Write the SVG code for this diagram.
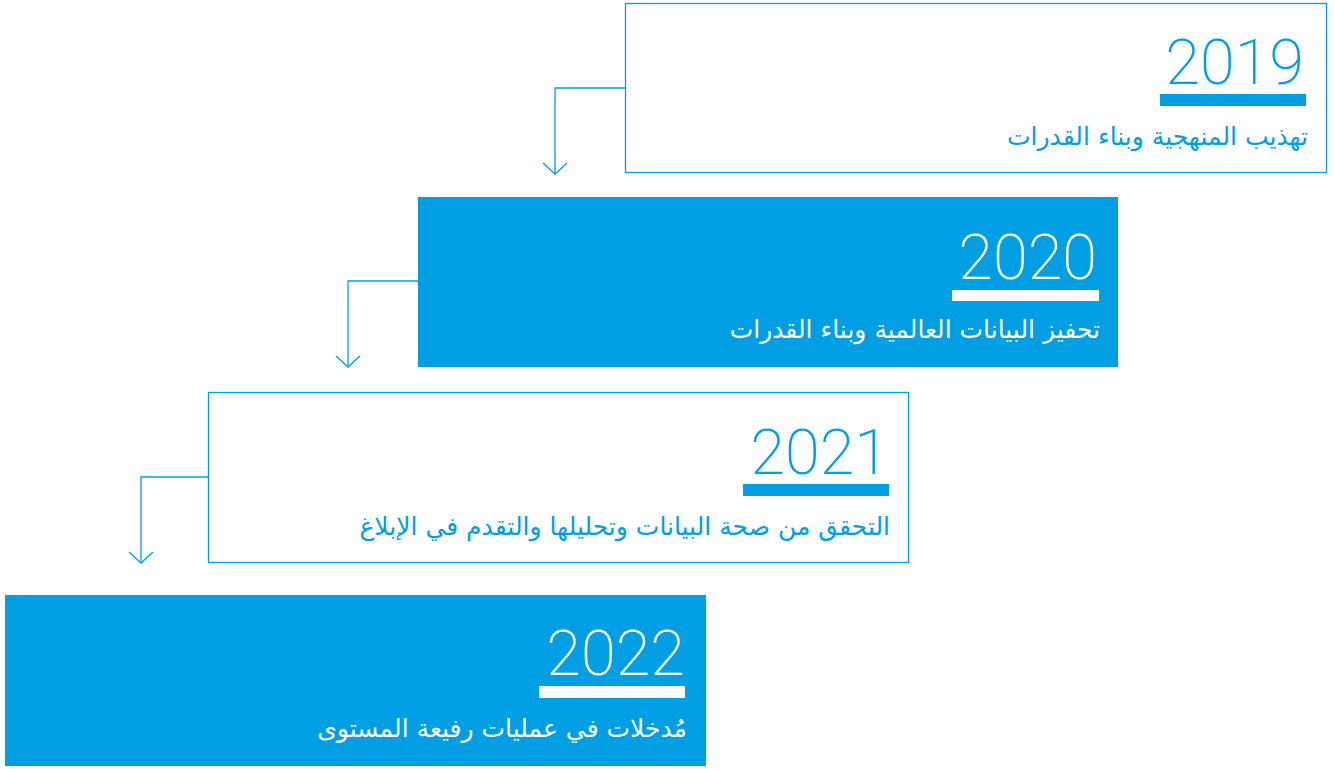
<svg xmlns="http://www.w3.org/2000/svg" width="1334" height="769" viewBox="0 0 1334 769">
<defs>
<style>
.box-o{fill:#ffffff;stroke:#009fe3;stroke-width:1.3}
.box-f{fill:#009fe3}
.yr{font-family:Roboto,"Liberation Sans",sans-serif;font-weight:200;font-size:63px;text-anchor:end}
.lbl{font-family:"DejaVu Sans","Noto Sans",sans-serif;font-size:25px;text-anchor:end}
.blue{fill:#009fe3}
.white{fill:#ffffff}
.con{fill:none;stroke:#009fe3;stroke-width:1.3}
</style>
</defs>
<rect width="1334" height="769" fill="#ffffff"/>
<g id="connectors">
<path class="con" d="M625,88 H555 V174"/>
<path class="con" d="M543,163 L555,174 L567,163"/>
<path class="con" d="M418,281 H348 V367"/>
<path class="con" d="M336,356 L348,367 L360,356"/>
<path class="con" d="M210,477 H141 V563"/>
<path class="con" d="M129,552 L141,563 L153,552"/>
</g>
<g id="node-2019">
<rect class="box-o" x="625.5" y="3.5" width="701" height="169"/>
<text class="yr blue" x="1304" y="84">2019</text>
<rect class="blue" x="1160" y="94" width="146" height="12"/>
<text class="lbl blue" x="1308" y="145">تهذيب المنهجية وبناء القدرات</text>
</g>
<g id="node-2020">
<rect class="box-f" x="418" y="197" width="700" height="170"/>
<text class="yr white" x="1097" y="279">2020</text>
<rect class="white" x="952" y="290" width="147" height="11"/>
<text class="lbl white" x="1100" y="338">تحفيز البيانات العالمية وبناء القدرات</text>
</g>
<g id="node-2021">
<rect class="box-o" x="208.5" y="392.5" width="700" height="170"/>
<text class="yr blue" x="889" y="474">2021</text>
<rect class="blue" x="743" y="484" width="146" height="12"/>
<text class="lbl blue" x="890" y="535">التحقق من صحة البيانات وتحليلها والتقدم في الإبلاغ</text>
</g>
<g id="node-2022">
<rect class="box-f" x="5" y="595" width="701" height="171"/>
<text class="yr white" x="685" y="675">2022</text>
<rect class="white" x="539" y="686" width="146" height="12"/>
<text class="lbl white" x="687" y="737">مُدخلات في عمليات رفيعة المستوى</text>
</g>
</svg>
